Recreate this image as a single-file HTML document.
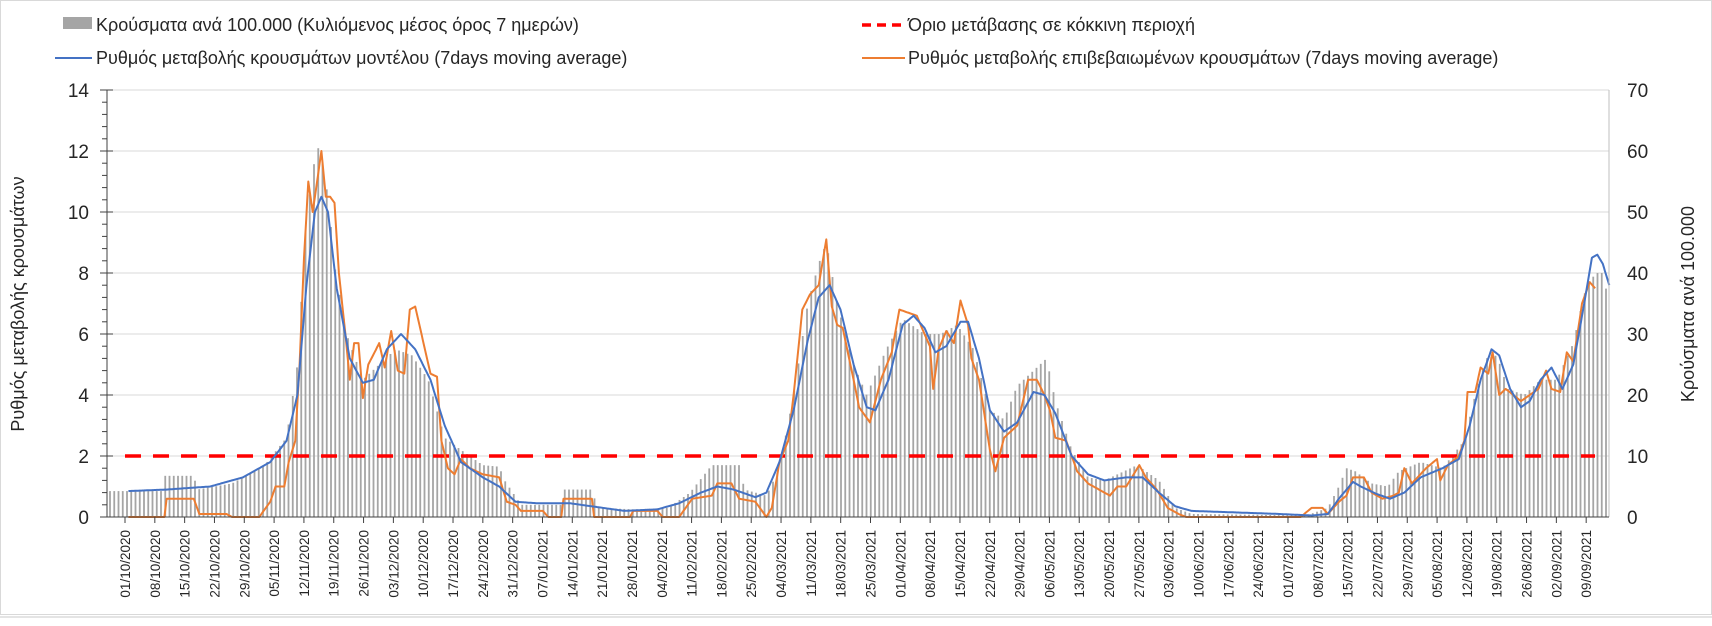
<!DOCTYPE html>
<html><head><meta charset="utf-8">
<style>
html,body{margin:0;padding:0;background:#fff;}
body{width:1712px;height:621px;overflow:hidden;font-family:"Liberation Sans","DejaVu Sans",sans-serif;}
svg text{font-family:"Liberation Sans","DejaVu Sans",sans-serif;fill:#262626;}
</style></head>
<body>
<svg id="c" width="1712" height="621" xmlns="http://www.w3.org/2000/svg">
<rect x="0.5" y="0.5" width="1711" height="614" fill="#fff" stroke="#d9d9d9"/>
<line x1="0" y1="617" x2="1712" y2="617" stroke="#c8c8c8"/>
<g id="grid"></g><g id="bars"></g><g id="lines"></g><g id="axes"></g>
<!-- legend -->
<rect x="63" y="17" width="29" height="12" fill="#a5a5a5"/>
<text x="96" y="31" font-size="18">Κρούσματα ανά 100.000 (Κυλιόμενος μέσος όρος 7 ημερών)</text>
<line x1="55" y1="58" x2="92" y2="58" stroke="#4472c4" stroke-width="2"/>
<text x="96" y="64" font-size="18">Ρυθμός μεταβολής κρουσμάτων μοντέλου (7days moving average)</text>
<line x1="862" y1="25" x2="905" y2="25" stroke="#ff0000" stroke-width="3.5" stroke-dasharray="9,6"/>
<text x="908" y="31" font-size="18">Όριο μετάβασης σε κόκκινη περιοχή</text>
<line x1="862" y1="58" x2="905" y2="58" stroke="#ed7d31" stroke-width="2"/>
<text x="908" y="64" font-size="18">Ρυθμός μεταβολής επιβεβαιωμένων κρουσμάτων (7days moving average)</text>
<text transform="translate(24,304) rotate(-90)" text-anchor="middle" font-size="18">Ρυθμός μεταβολής κρουσμάτων</text>
<text transform="translate(1694,304) rotate(-90)" text-anchor="middle" font-size="18">Κρούσματα ανά 100.000</text>
</svg>
<script>
const NS="http://www.w3.org/2000/svg";
function el(p,t,a,txt){const e=document.createElementNS(NS,t);for(const k in a)e.setAttribute(k,a[k]);if(txt!==undefined)e.textContent=txt;document.getElementById(p).appendChild(e);return e;}
const X0=107,X1=1609,Y0=517,U=30.5;
const yv=v=>Y0-v*U;
const xd=d=>d*1.0905+3;
function interp(pts,x){if(x<=pts[0][0])return pts[0][1];for(let i=1;i<pts.length;i++){if(x<=pts[i][0]){const a=pts[i-1],b=pts[i];return a[1]+(b[1]-a[1])*(x-a[0])/(b[0]-a[0]);}}return pts[pts.length-1][1];}
function parse(s){return s.split(";").map(p=>p.split(":").map(Number));}
const blue=parse("115:0.85;150:0.9;190:1.0;220:1.3;245:1.8;260:2.5;270:4;278:7.5;286:10;292:10.5;298:10;306:7.5;318:5.2;330:4.4;340:4.5;352:5.5;365:6.0;378:5.5;392:4.5;405:3.0;420:1.8;440:1.3;455:1.0;470:0.5;490:0.45;520:0.45;540:0.35;570:0.2;600:0.25;620:0.45;640:0.8;655:1.0;670:0.9;690:0.65;700:0.8;712:1.8;725:3.5;738:5.8;748:7.2;758:7.6;768:6.8;780:5.0;792:3.6;800:3.5;812:4.5;825:6.3;835:6.6;845:6.2;855:5.4;865:5.6;878:6.4;885:6.4;895:5.2;905:3.5;918:2.8;930:3.1;945:4.1;955:4.0;965:3.4;980:2.0;995:1.4;1010:1.2;1030:1.3;1045:1.3;1060:0.8;1075:0.35;1090:0.2;1130:0.15;1170:0.1;1200:0.05;1215:0.1;1225:0.6;1238:1.15;1245:1.0;1260:0.75;1272:0.6;1285:0.8;1300:1.3;1320:1.6;1335:1.9;1345:3.0;1355:4.5;1365:5.5;1372:5.3;1382:4.2;1392:3.6;1400:3.8;1410:4.5;1420:4.9;1430:4.2;1440:5.0;1450:7.0;1457:8.5;1462:8.6;1467:8.3;1473:7.6");
const orange=parse("115:0;148:0;150:0.6;175:0.6;180:0.1;205:0.1;210:0;235:0;245:0.5;250:1.0;258:1.0;262:1.8;268:2.5;272:5;276:8.5;280:11;284:10;288:11;292:12;296:10.5;300:10.5;304:10.3;308:8;314:6;318:4.5;322:5.7;326:5.7;330:3.9;335:5;345:5.7;350:4.9;356:6.1;362:4.8;368:4.7;373:6.8;378:6.9;385:5.8;392:4.7;398:4.6;402:2.5;408:1.6;414:1.4;420:1.9;428:1.6;440:1.4;455:1.3;462:0.5;470:0.4;475:0.2;495:0.2;500:0;512:0;514:0.6;540:0.6;542:0;575:0;578:0.2;600:0.2;605:0;620:0;632:0.6;650:0.7;655:1.1;668:1.1;675:0.6;690:0.5;700:0;705:0.3;712:1.8;720:2.5;725:4;733:6.8;740:7.3;748:7.6;755:9.1;760:6.9;765:6.3;770:6.2;780:4.5;785:3.6;795:3.1;805:4.5;815:5.4;822:6.8;830:6.7;838:6.6;845:6.0;850:5.6;853:4.2;858:5.5;865:6.1;872:5.7;878:7.1;885:6.3;888:5.2;895:4.5;905:2.2;910:1.5;918:2.6;930:3.0;940:4.5;948:4.5;955:4.0;960:3.5;965:2.6;975:2.5;985:1.5;995:1.1;1005:0.9;1015:0.7;1022:1.0;1030:1.0;1042:1.7;1048:1.3;1058:0.9;1068:0.3;1078:0.1;1085:0;1190:0;1200:0.3;1210:0.3;1215:0.1;1225:0.5;1232:0.7;1238:1.3;1248:1.3;1255:0.8;1265:0.6;1275:0.7;1280:0.8;1285:1.6;1292:1.1;1305:1.6;1315:1.9;1318:1.2;1325:1.7;1335:2.0;1340:2.5;1343:4.1;1350:4.1;1355:4.9;1362:4.7;1366:5.4;1372:4.0;1378:4.2;1385:4.0;1392:3.8;1400:4.0;1408:4.2;1415:4.8;1420:4.2;1428:4.1;1434:5.4;1440:5.1;1448:7.0;1455:7.7;1460:7.5");
const bars=parse("115:0.85;145:0.85;148:1.35;175:1.35;178:0.9;210:1.1;240:1.7;260:2.6;270:5;278:9.7;284:11.3;288:12.2;292:11.8;298:10.5;305:8;315:6;330:4.5;345:5;360:5.5;375:5.3;390:4.5;405:2.6;420:2.2;440:1.7;455:1.65;460:1.2;475:0.4;512:0.4;514:0.9;540:0.9;545:0.3;580:0.25;610:0.3;630:0.8;650:1.7;675:1.7;680:0.9;700:0.7;712:1.6;725:4;738:7;748:8.3;755:9;765:7;780:5;792:4;810:5.5;825:6.5;845:6;860:6;875:6.3;890:5.5;905:3.5;918:3.2;930:4.3;945:4.8;957:5.2;965:3.8;980:2.2;995:1.3;1010:1.2;1040:1.7;1060:1.2;1075:0.3;1090:0.1;1195:0.05;1215:0.3;1225:1.0;1232:1.6;1240:1.5;1255:1.1;1270:1.0;1280:1.5;1300:1.8;1320:1.6;1340:2.5;1350:4;1360:5.2;1370:5.3;1380:4.2;1395:4;1410:4.5;1425:4.5;1440:5.7;1450:7.3;1460:8;1468:8;1473:6.7");
// grid
for(let v=2;v<=14;v+=2)el("grid","line",{x1:X0,x2:X1,y1:yv(v),y2:yv(v),stroke:"#d9d9d9"});
// bars
for(let x=110;x<1607;x+=4.25){const v=interp(bars,(x-3)/1.0905);if(v<=0.02)continue;el("bars","rect",{x:x-0.9,y:yv(v),width:1.8,height:v*U,fill:"#a5a5a5"});}
// red dashed
el("lines","line",{x1:125,x2:1595,y1:yv(2),y2:yv(2),stroke:"#ff0000","stroke-width":3.5,"stroke-dasharray":"16,12"});
function path(pts,col){let d="";for(let xx=pts[0][0];xx<=pts[pts.length-1][0];xx+=1){d+=(d?"L":"M")+xd(xx).toFixed(1)+","+yv(interp(pts,xx)).toFixed(1);}el("lines","path",{d:d,fill:"none",stroke:col,"stroke-width":2,"stroke-linejoin":"round"});}
path(orange,"#ed7d31");path(blue,"#4472c4");
// axes
el("axes","line",{x1:X0,x2:X0,y1:yv(14),y2:Y0,stroke:"#404040"});
el("axes","line",{x1:X1,x2:X1,y1:yv(14),y2:Y0,stroke:"#bfbfbf"});
el("axes","line",{x1:X0,x2:X1,y1:Y0,y2:Y0,stroke:"#404040"});
for(let v=0;v<=14.01;v+=0.4){const y=yv(v);const major=Math.abs(v/2-Math.round(v/2))<0.01;el("axes","line",{x1:major?100:102,x2:major?113:107,y1:y,y2:y,stroke:"#404040"});}
for(let v=0;v<=14;v+=2){el("axes","text",{x:89,y:yv(v)+7,"text-anchor":"end","font-size":19},String(v));el("axes","text",{x:1627,y:yv(v)+7,"font-size":19},String(v*5));}
// x ticks / labels
const start=new Date(2020,9,1);
for(let w=0;w<=49;w++){const d=new Date(start.getTime()+w*7*86400000+3600000);const x=125+w*7*4.26;if(x>1605)break;
el("axes","line",{x1:x,x2:x,y1:Y0,y2:Y0+6,stroke:"#404040"});
const s=String(d.getDate()).padStart(2,"0")+"/"+String(d.getMonth()+1).padStart(2,"0")+"/"+d.getFullYear();
el("axes","text",{transform:`translate(${x+5},530) rotate(-90)`,"text-anchor":"end","font-size":13.5},s);}
</script>
</body></html>
